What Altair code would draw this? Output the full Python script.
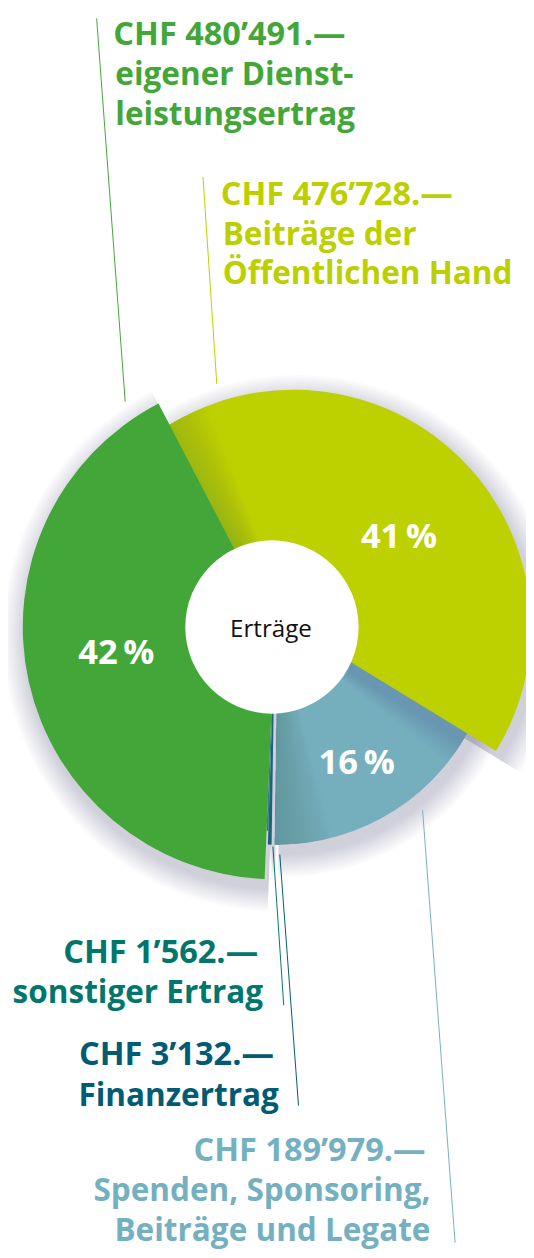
import math
import altair as alt
import pandas as pd

# ---------------- data ----------------
keys = ["oeff", "spenden", "finanz", "sonst", "eigen"]
categories = [
    "Beiträge der Öffentlichen Hand",
    "Spenden, Sponsoring, Beiträge und Legate",
    "Finanzertrag",
    "sonstiger Ertrag",
    "eigener Dienstleistungsertrag",
]
amounts = [476728, 189979, 3132, 1562, 480491]
amount_labels = ["CHF 476’728.—", "CHF 189’979.—", "CHF 3’132.—", "CHF 1’562.—", "CHF 480’491.—"]
name_lines = [
    ["Beiträge der", "Öffentlichen Hand"],
    ["Spenden, Sponsoring,", "Beiträge und Legate"],
    ["Finanzertrag"],
    ["sonstiger Ertrag"],
    ["eigener Dienst-", "leistungsertrag"],
]
percent_labels = ["41\u2009%", "16\u2009%", "", "", "42\u2009%"]
center_label = "Erträge"

# ---------------- styles / layout ----------------
FONT = "Open Sans"
W, H = 526, 1242
CX, CY = 271, 619          # pie centre (chart pixels)
HOLE_R = 88
HOLE_SHIFT = (-3, 0)
INNER = 60                 # hidden under the white hole
START_DEG = 332.5
slice_colors = {"oeff": "#bdd000", "spenden": "#75afbe", "finanz": "#1f617c",
                "sonst": "#2c7d8f", "eigen": "#43a638"}
text_colors = {"oeff": "#bccf00", "spenden": "#74b0bf", "finanz": "#005b73",
               "sonst": "#00766c", "eigen": "#43a638"}
outer_r = {"oeff": 241, "spenden": 220, "finanz": 221, "sonst": 207, "eigen": 256}
shift = {"oeff": (19, 0), "spenden": (3, 1), "finanz": (0, 0), "sonst": (0, 0), "eigen": (0, 0)}
ext_deg = {"oeff": 12, "spenden": 8, "finanz": 0, "sonst": 0, "eigen": 0}
draw_order = ["spenden", "finanz", "sonst", "oeff", "eigen"]

label_layout = {
    "eigen": dict(x=107, y=28, align="left"),
    "oeff": dict(x=216, y=190, align="left"),
    "sonst": dict(x=259, y=960, align="right"),
    "finanz": dict(x=275, y=1064, align="right"),
    "spenden": dict(x=429, y=1161, align="right"),
}
LINE_STEP = 40
pct_layout = {"oeff": (397, 539), "spenden": (354, 768), "eigen": (110, 657)}
leader_lines = {
    "eigen": (90, 1, 119, 390),
    "oeff": (198, 162, 212, 372),
    "spenden": (421, 805, 454, 1244),
    "sonst": (269, 842, 280, 1003),
    "finanz": (276, 850, 295, 1105),
}

total = sum(amounts)
df = pd.DataFrame({"key": keys, "category": categories, "amount": amounts,
                   "order": list(range(len(keys)))})

start_rad = math.radians(START_DEG)
theta_scale = alt.Scale(domain=[0, total], range=[start_rad, start_rad + 2 * math.pi])

base = (
    alt.Chart(df)
    .transform_window(cum="sum(amount)", sort=[alt.SortField("order")], frame=[None, 0])
    .transform_calculate(start="datum.cum - datum.amount")
)


def arc_layer(key, a_expr, b_expr, radius, color, opacity=1.0, dx=0, dy=0):
    sx, sy = shift[key]
    return (
        base.transform_filter(alt.datum.key == key)
        .transform_calculate(ta=a_expr, tb=b_expr)
        .mark_arc(innerRadius=INNER, outerRadius=radius, color=color, opacity=opacity)
        .encode(theta=alt.Theta("ta:Q", scale=theta_scale), theta2="tb:Q",
                x=alt.value(CX + sx + dx), y=alt.value(CY + sy + dy))
    )


def ext_start(key):
    return f"datum.start - {ext_deg[key] * total / 360.0}"


layers = []

# soft drop shadow
for k in range(1, 13):
    for key in draw_order:
        layers.append(arc_layer(key, ext_start(key), "datum.cum", outer_r[key] + 2 * k,
                                "#55658a", 0.022, dx=4, dy=9))

for key in draw_order:
    layers.append(arc_layer(key, ext_start(key), "datum.cum", outer_r[key], slice_colors[key]))
    if key == "spenden":
        # shade cast by the lime slice and at the left end
        for i in range(1, 13):
            f = 0.12 * i / 12
            layers.append(arc_layer(key, ext_start(key), f"datum.start + datum.amount * {f}",
                                    outer_r[key], "#3e5a78", 0.016))
        for i in range(1, 21):
            f = 0.26 * i / 20
            layers.append(arc_layer(key, f"datum.cum - datum.amount * {f}", "datum.cum",
                                    outer_r[key], "#3e5a78", 0.012))
    if key == "oeff":
        # shade cast by the green slice
        for i in range(20):
            f = -0.05 + 0.09 * i / 19
            layers.append(arc_layer(key, ext_start(key), f"datum.start + datum.amount * {f}",
                                    outer_r[key], "#5e667a", 0.016))

# white centre hole
layers.append(
    alt.Chart(pd.DataFrame({"t": [center_label]}))
    .mark_arc(innerRadius=0, outerRadius=HOLE_R, color="white")
    .encode(theta=alt.value(0), theta2=alt.value(2 * math.pi),
            x=alt.value(CX + HOLE_SHIFT[0]), y=alt.value(CY + HOLE_SHIFT[1]))
)

# centre hole label
layers.append(
    alt.Chart(pd.DataFrame({"t": [center_label]}))
    .mark_text(font=FONT, fontSize=24.5, color="#111111", align="center", baseline="alphabetic")
    .encode(text="t:N", x=alt.value(CX - 4), y=alt.value(CY + 10))
)

# percentage labels
for key, pl in zip(keys, percent_labels):
    if not pl:
        continue
    px, py = pct_layout[key]
    layers.append(
        alt.Chart(pd.DataFrame({"t": [pl]}))
        .mark_text(font=FONT, fontSize=35, fontWeight="bold", color="white",
                   align="center", baseline="alphabetic")
        .encode(text="t:N", x=alt.value(px), y=alt.value(py))
    )

# leader lines
for key in keys:
    x1, y1, x2, y2 = leader_lines[key]
    layers.append(
        alt.Chart(pd.DataFrame({"k": [key]}))
        .mark_rule(color=text_colors[key], strokeWidth=1)
        .encode(x=alt.value(x1), y=alt.value(y1), x2=alt.value(x2), y2=alt.value(y2))
    )

# outside labels
for key, amt, lines in zip(keys, amount_labels, name_lines):
    lay = label_layout[key]
    texts = [amt] + lines
    for i, t in enumerate(texts):
        if lay["align"] == "right":
            tx = lay["x"] - (5 if i == 0 else 0)
        else:
            tx = lay["x"] + (0 if i == 0 else 2)
        ty = lay["y"] + i * LINE_STEP + (0 if i == 0 else 1)
        layers.append(
            alt.Chart(pd.DataFrame({"t": [t]}))
            .mark_text(font=FONT, fontSize=33 if i == 0 else 32, fontWeight="bold",
                       color=text_colors[key], align=lay["align"], baseline="alphabetic")
            .encode(text="t:N", x=alt.value(tx), y=alt.value(ty))
        )

chart = (
    alt.layer(*layers)
    .properties(width=W, height=H, padding=0, autosize="none")
    .configure_view(stroke=None)
)

chart.save("out.html", embed_options={"renderer": "svg", "actions": False})
